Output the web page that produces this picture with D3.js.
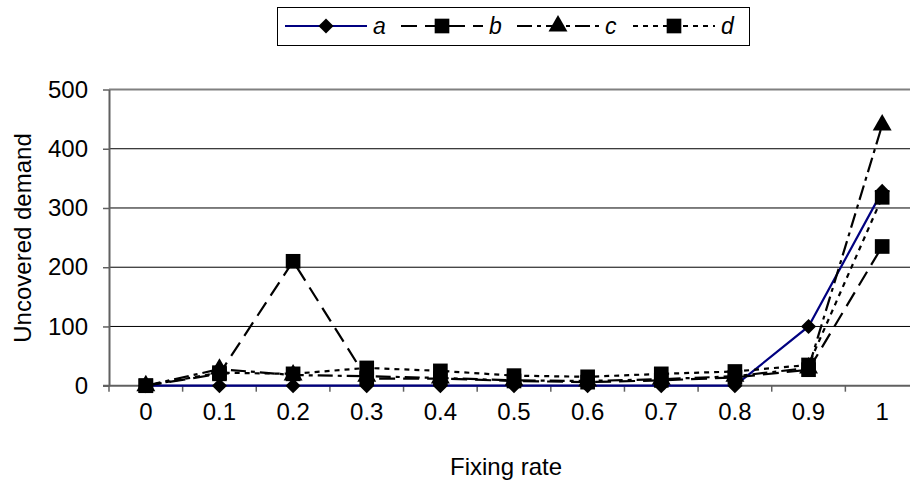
<!DOCTYPE html>
<html>
<head>
<meta charset="utf-8">
<script src="https://cdn.jsdelivr.net/npm/d3@7"></script>
<style>
  body { margin: 0; background: #fff; }
  text { font-family: Arial, "Liberation Sans", sans-serif; fill: #000; }
</style>
</head>
<body>
<svg id="chart" width="910" height="483"></svg>
<script>
// Fixing rate categories and uncovered demand per series
const rates = ["0", "0.1", "0.2", "0.3", "0.4", "0.5", "0.6", "0.7", "0.8", "0.9", "1"];
const seriesA = [0, 0, 0, 0, 0, 0, 0, 0, 0, 100, 328];
const seriesB = [0, 20, 210, 12, 12, 8, 6, 9, 14, 27, 235];
const seriesC = [0, 28, 18, 16, 13, 9, 8, 11, 16, 30, 440];
const seriesD = [0, 22, 20, 30, 25, 17, 15, 20, 24, 35, 318];
const seriesNames = ["a", "b", "c", "d"];
const yTicks = [0, 100, 200, 300, 400, 500];

const series = [
  { name: seriesNames[0], values: seriesA, color: "#000080", dash: null, marker: "diamond" },
  { name: seriesNames[1], values: seriesB, color: "#000", dash: "16,8", marker: "square" },
  { name: seriesNames[2], values: seriesC, color: "#000", dash: "15,5,4,5", marker: "triangle" },
  { name: seriesNames[3], values: seriesD, color: "#000", dash: "5,5", marker: "square" }
];

const svg = d3.select("#chart");
const plot = { left: 109, right: 919, top: 89.5, bottom: 385.7 };
const fontPx = "24px";

const x = d3.scaleBand().domain(rates).range([plot.left, plot.right]).padding(0);
const y = d3.scaleLinear().domain([0, 500]).range([plot.bottom, plot.top]);
const cx = d => x(d) + x.bandwidth() / 2;

// horizontal gridlines
svg.append("g").selectAll("line").data(yTicks.filter(t => t > 0 && t < 500)).join("line")
  .attr("x1", plot.left).attr("x2", plot.right)
  .attr("y1", d => y(d)).attr("y2", d => y(d))
  .attr("stroke", "#000").attr("stroke-width", 1);

// plot frame top edge
svg.append("line").attr("x1", plot.left).attr("x2", plot.right)
  .attr("y1", y(500)).attr("y2", y(500))
  .attr("stroke", "#808080").attr("stroke-width", 2);

// y axis
const yAxis = svg.append("g").attr("transform", `translate(${plot.left},0)`)
  .call(d3.axisLeft(y).tickValues(yTicks).tickSize(6).tickSizeOuter(0).tickPadding(15));
yAxis.select(".domain").attr("stroke", "#606060").attr("stroke-width", 2);
yAxis.selectAll(".tick line").attr("stroke", "#606060").attr("stroke-width", 1.5);
yAxis.selectAll(".tick text").style("font-size", fontPx).attr("fill", "#000");

// x axis: labels centred in each band, ticks on band boundaries
const xAxis = svg.append("g").attr("transform", `translate(0,${plot.bottom})`)
  .call(d3.axisBottom(x).tickSize(0).tickPadding(17));
xAxis.select(".domain").remove();
xAxis.selectAll(".tick text").style("font-size", fontPx).attr("fill", "#000");
svg.append("g").selectAll("line").data(rates.concat(["end"])).join("line")
  .attr("x1", (d, i) => plot.left + i * x.step()).attr("x2", (d, i) => plot.left + i * x.step())
  .attr("y1", plot.bottom).attr("y2", plot.bottom + 6)
  .attr("stroke", "#606060").attr("stroke-width", 1.5);
svg.append("line").attr("x1", plot.left - 6).attr("x2", plot.right)
  .attr("y1", plot.bottom).attr("y2", plot.bottom)
  .attr("stroke", "#606060").attr("stroke-width", 2);

// axis titles
svg.append("text").attr("x", 506).attr("y", 475)
  .attr("text-anchor", "middle").style("font-size", fontPx).text("Fixing rate");
svg.append("text").attr("transform", `translate(31,238) rotate(-90)`)
  .attr("text-anchor", "middle").style("font-size", fontPx).text("Uncovered demand");

// marker shapes
const symbolFor = {
  diamond: d3.symbol().type(d3.symbolDiamond2).size(145),
  square: d3.symbol().type(d3.symbolSquare).size(215),
  triangle: d3.symbol().type(d3.symbolTriangle).size(155)
};
function drawMarker(g, kind, px, py) {
  g.append("path").attr("d", symbolFor[kind]())
    .attr("transform", `translate(${px},${py})`)
    .attr("fill", "#000");
}

const line = d3.line().x((d, i) => cx(rates[i])).y(d => y(d));
const marks = svg.append("g");
series.forEach(s => {
  marks.append("path").datum(s.values).attr("d", line)
    .attr("fill", "none").attr("stroke", s.color).attr("stroke-width", 2.2)
    .attr("stroke-dasharray", s.dash);
  s.values.forEach((v, i) => drawMarker(marks, s.marker, cx(rates[i]), y(v)));
});

// legend
const legend = svg.append("g");
legend.append("rect").attr("x", 277.5).attr("y", 7.5).attr("width", 472).attr("height", 38)
  .attr("fill", "#fff").attr("stroke", "#000").attr("stroke-width", 1);
series.forEach((s, i) => {
  const x0 = 285 + i * 116, ly = 26;
  legend.append("line").attr("x1", x0).attr("x2", x0 + 82).attr("y1", ly).attr("y2", ly)
    .attr("stroke", s.color).attr("stroke-width", 2).attr("stroke-dasharray", s.dash);
  drawMarker(legend, s.marker, x0 + 41, ly);
  legend.append("text").attr("x", x0 + 88).attr("y", ly + 8)
    .style("font-size", "23px").style("font-style", "italic").text(s.name);
});
</script>
</body>
</html>
